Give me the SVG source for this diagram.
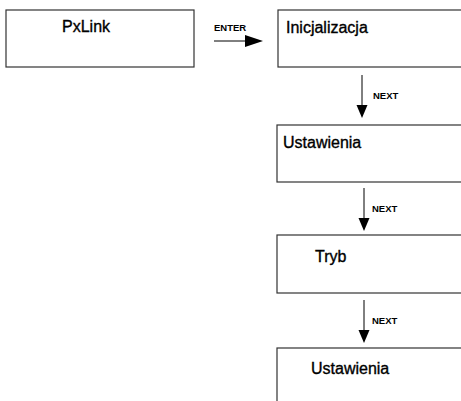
<svg xmlns="http://www.w3.org/2000/svg" width="461" height="401" viewBox="0 0 461 401">
<style>
.box{fill:#fff;stroke:#333;stroke-width:1.2}
.t{font-family:"Liberation Sans",Arial,sans-serif;font-size:16px;fill:#000;stroke:#000;stroke-width:0.35}
.lbl{font-family:"Liberation Sans",Arial,sans-serif;font-size:9.5px;font-weight:bold;fill:#000}
.ln{stroke:#000;stroke-width:1;fill:none}
.hd{fill:#000}
</style>
<rect width="461" height="401" fill="#fff"/>
<g id="pxlink"><rect class="box" x="6" y="10" width="188" height="57"/><text class="t" x="62" y="32">PxLink</text></g>
<g id="inicjalizacja"><rect class="box" x="278" y="10" width="200" height="57"/><text class="t" x="286" y="33">Inicjalizacja</text></g>
<g id="ustawienia1"><rect class="box" x="277" y="125" width="200" height="57"/><text class="t" x="283" y="148">Ustawienia</text></g>
<g id="tryb"><rect class="box" x="277" y="235" width="200" height="58"/><text class="t" x="315" y="262">Tryb</text></g>
<g id="ustawienia2"><rect class="box" x="277" y="348" width="200" height="80"/><text class="t" x="311" y="374">Ustawienia</text></g>
<g id="connectors">
<line class="ln" x1="214" y1="41" x2="248" y2="41"/><polygon class="hd" points="245,35 263,41 245,47"/>
<text class="lbl" x="214" y="31">ENTER</text>
<line class="ln" x1="362" y1="75" x2="362" y2="107"/><polygon class="hd" points="356.5,105 367.5,105 362,118"/>
<text class="lbl" x="373" y="99">NEXT</text>
<line class="ln" x1="364" y1="188" x2="364" y2="220"/><polygon class="hd" points="358.5,218 369.5,218 364,231"/>
<text class="lbl" x="372" y="212">NEXT</text>
<line class="ln" x1="364" y1="300" x2="364" y2="332"/><polygon class="hd" points="358.5,330 369.5,330 364,343"/>
<text class="lbl" x="372" y="324">NEXT</text>
</g>
</svg>
